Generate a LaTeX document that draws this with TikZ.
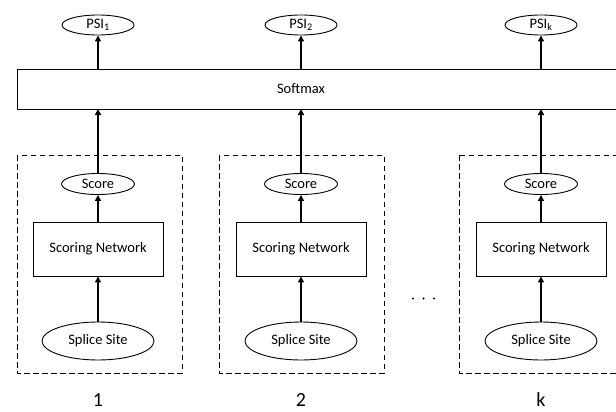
\documentclass[tikz,border=0pt]{standalone}
\usepackage{fontspec}
\setmainfont{Carlito}
\usetikzlibrary{arrows.meta,shapes.geometric}
\begin{document}
\begin{tikzpicture}[x=1pt,y=-1pt,
  lbl/.style={font=\fontsize{14.5}{17}\selectfont},
  oval/.style={draw,line width=0.9pt,ellipse,inner sep=0pt,lbl},
  rbox/.style={draw,line width=0.9pt,rectangle,inner sep=0pt,lbl},
  dbox/.style={draw,line width=0.9pt,dash pattern=on 5.5pt off 3.5pt},
  arr/.style={line width=1.4pt,-{Triangle[width=6pt,length=6pt]}},
  num/.style={inner sep=0pt,font=\fontsize{20}{22}\selectfont}]
\useasboundingbox (0,0) rectangle (616,412);
\clip (0,0) rectangle (616,412);
% softmax
\draw[line width=0.9pt] (17,69) rectangle (640,109);
\node[lbl] (soft) at (301,89) {Softmax};
\coordinate (sb1) at (98,109); \coordinate (st1) at (98,69);
\coordinate (sb2) at (301,109); \coordinate (st2) at (301,69);
\coordinate (sb3) at (541,109); \coordinate (st3) at (541,69);
% PSI
\node[oval,minimum width=72pt,minimum height=20pt] (psi1) at (98,25) {PSI\textsubscript{1}};
\node[oval,minimum width=72pt,minimum height=20pt] (psi2) at (301,25) {PSI\textsubscript{2}};
\node[oval,minimum width=72pt,minimum height=20pt] (psi3) at (541,25) {PSI\textsubscript{k}};
% dashed boxes
\draw[dbox] (17,155) rectangle (182,373);
\draw[dbox] (219,155) rectangle (384,373);
\draw[dbox] (459,155) rectangle (640,373);
% stacks
\foreach \i/\x in {1/98,2/301,3/541}{
  \node[oval,minimum width=73pt,minimum height=21pt] (score\i) at (\x,184) {Score};
  \node[rbox,minimum width=130pt,minimum height=54pt] (net\i) at (\x,249) {Scoring Network};
  \node[oval,minimum width=112pt,minimum height=38pt] (site\i) at (\x,341) {Splice Site};
  \draw[arr] (site\i) -- (net\i);
  \draw[arr] (net\i) -- (score\i);
  \draw[arr] (score\i) -- (sb\i);
  \draw[arr] (st\i) -- (psi\i);
}
\node[num] (n1) at (98,400) {1};
\node[num] (n2) at (301,400) {2};
\node[num] (n3) at (541,400) {k};
\node[inner sep=0pt] (dots) at (423.5,298.5) {};
\fill (dots) ++(-10.5,0) circle (1.1pt) (dots) circle (1.1pt) (dots) ++(10.5,0) circle (1.1pt);
\end{tikzpicture}
\end{document}
